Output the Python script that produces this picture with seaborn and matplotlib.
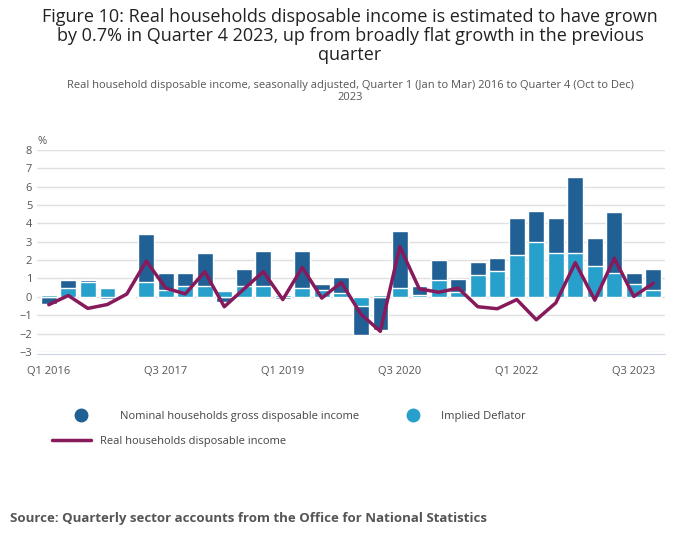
import matplotlib
matplotlib.use("Agg")
import matplotlib.pyplot as plt
import seaborn as sns
import numpy as np
import pandas as pd
from matplotlib.lines import Line2D
from matplotlib.patches import Patch

quarters = [f"Q{q} {y}" for y in range(2016, 2024) for q in range(1, 5)]
nominal = [-0.38, 0.9, 0.9, -0.1, 0.1, 3.4, 1.28, 1.28, 2.37, -0.27, 1.5, 2.48, -0.1, 2.48, 0.69, 1.07,
           -2.06, -1.8, 3.56, 0.58, 1.99, 0.96, 1.88, 2.1, 4.27, 4.65, 4.27, 6.55, 3.18, 4.6, 1.28, 1.5]
deflator = [0.1, 0.47, 0.8, 0.47, 0.02, 0.8, 0.36, 0.58, 0.58, 0.3, 0.58, 0.58, 0.1, 0.47, 0.36, 0.2,
            -0.49, 0.1, 0.47, 0.1, 0.9, 0.24, 1.18, 1.39, 2.26, 2.97, 2.37, 2.37, 1.66, 1.28, 0.69, 0.36]
real = [-0.43, 0.07, -0.63, -0.42, 0.15, 1.95, 0.47, 0.16, 1.37, -0.54, 0.42, 1.37, -0.15, 1.6, -0.07, 0.78,
        -0.94, -1.88, 2.73, 0.43, 0.25, 0.47, -0.54, -0.65, -0.15, -1.25, -0.33, 1.86, -0.18, 2.1, 0.02, 0.74]
tick_labels = ["Q1 2016", "Q3 2017", "Q1 2019", "Q3 2020", "Q1 2022", "Q3 2023"]

DARK, LIGHT, LINE = "#206095", "#27a0cc", "#871a5b"
df = pd.DataFrame({"q": quarters, "nom": nominal, "def": deflator, "real": real, "i": np.arange(len(quarters))})

sns.set_style("white")
plt.rcParams['font.family'] = ['Open Sans', 'DejaVu Sans']
fig = plt.figure(figsize=(7, 5.49), dpi=100)
ax = fig.add_axes([0.053, 0.359, 0.897, 0.368])
sns.barplot(data=df, x="q", y="nom", color=DARK, width=0.8, saturation=1, ax=ax, zorder=2)
sns.barplot(data=df, x="q", y="def", color=LIGHT, width=0.8, saturation=1, ax=ax, zorder=3)
sns.lineplot(data=df, x="i", y="real", color=LINE, lw=2.5, ax=ax, zorder=4)

ax.set_ylim(-3, 8)
ax.set_yticks(range(-3, 9))
ax.set_xlim(-0.6, 31.6)
idx = [quarters.index(t) for t in tick_labels]
ax.set_xticks(idx)
ax.set_xticklabels(tick_labels)
ax.set_xlabel(""); ax.set_ylabel("")
ax.grid(axis="y", color="#e0e0e0", lw=1, zorder=0)
for s in ["top", "right", "left"]:
    ax.spines[s].set_visible(False)
ax.spines["bottom"].set_color("#ccd6eb")
ax.spines["bottom"].set_position(("data", -3.1))
ax.tick_params(axis="x", length=8, color="#ccd6eb", labelsize=8, labelcolor="#555555", pad=1)
ax.tick_params(axis="y", length=0, labelsize=8, labelcolor="#555555")
ax.text(-0.3, 1.02, "%", transform=ax.get_yaxis_transform(), fontsize=8, color="#555555") if False else None
ax.annotate("%", xy=(0.0, 8.3), xycoords=("axes fraction", "data"), fontsize=8, color="#555555", annotation_clip=False)

fig.text(0.5, 0.985, "Figure 10: Real households disposable income is estimated to have grown\nby 0.7% in Quarter 4 2023, up from broadly flat growth in the previous\nquarter",
         ha="center", va="top", fontsize=13, color="#222222", linespacing=1.05)
fig.text(0.5, 0.855, "Real household disposable income, seasonally adjusted, Quarter 1 (Jan to Mar) 2016 to Quarter 4 (Oct to Dec)\n2023",
         ha="center", va="top", fontsize=8, color="#555555")

fig.legend(handles=[Line2D([], [], marker="o", ls="", color=DARK, markersize=9)], labels=["Nominal households gross disposable income"],
           loc="center left", bbox_to_anchor=(0.085, 0.242), frameon=False, fontsize=8, labelcolor="#444444", handletextpad=2.5)
fig.legend(handles=[Line2D([], [], marker="o", ls="", color=LIGHT, markersize=9)], labels=["Implied Deflator"],
           loc="center left", bbox_to_anchor=(0.56, 0.242), frameon=False, fontsize=8, labelcolor="#444444", handletextpad=1.5)
fig.legend(handles=[Line2D([], [], color=LINE, lw=2.5)], labels=["Real households disposable income"],
           loc="center left", bbox_to_anchor=(0.06, 0.196), frameon=False, fontsize=8, labelcolor="#444444", handlelength=3.5)

fig.text(0.014, 0.05, "Source: Quarterly sector accounts from the Office for National Statistics",
         fontsize=9.5, fontweight="bold", color="#555555")
fig.savefig("out.png", dpi=100)
